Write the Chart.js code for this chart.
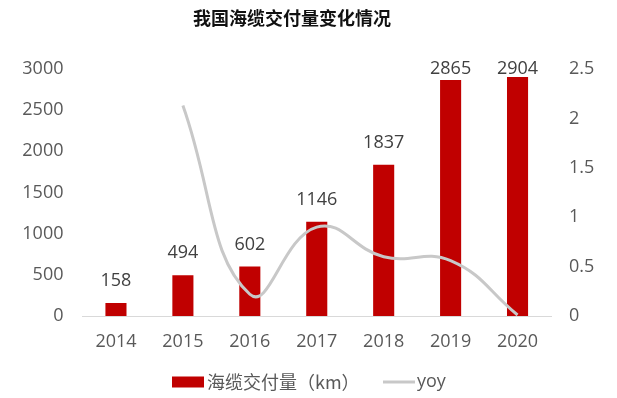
<!DOCTYPE html>
<html>
<head>
<meta charset="utf-8">
<script src="https://cdn.jsdelivr.net/npm/chart.js@4.4.1/dist/chart.umd.min.js"></script>
<style>
  html, body { margin: 0; padding: 0; background: #fff; }
  #wrap { width: 617px; height: 398px; }
</style>
</head>
<body>
<div id="wrap"><canvas id="chart" width="617" height="398"></canvas></div>
<script>
const years = ['2014', '2015', '2016', '2017', '2018', '2019', '2020'];
const delivered = [158, 494, 602, 1146, 1837, 2865, 2904];
const yoy = [null, 2.13, 0.22, 0.90, 0.60, 0.56, 0.01];
const leftTicks = [0, 500, 1000, 1500, 2000, 2500, 3000];
const rightTicks = [0, 0.5, 1, 1.5, 2, 2.5];

const FONT = "'Open Sans', 'Noto Sans CJK SC', sans-serif";
const CJK = "'Noto Sans CJK SC', 'Open Sans', sans-serif";
const TEXT = '#595959';

// title, bar value labels and the legend row
const extras = {
  id: 'extras',
  afterDatasetsDraw(chart) {
    const ctx = chart.ctx;
    const area = chart.chartArea;
    ctx.save();

    ctx.font = 'bold 18px ' + CJK;
    ctx.fillStyle = '#111';
    ctx.textAlign = 'center';
    ctx.textBaseline = 'middle';
    ctx.fillText('我国海缆交付量变化情况', 292, 18);

    // value labels above the bars
    ctx.font = '18px ' + FONT;
    ctx.fillStyle = '#404040';
    chart.getDatasetMeta(0).data.forEach((bar, i) => {
      const y = Math.max(bar.y - 22, area.top);
      ctx.fillText(String(delivered[i]), bar.x, y);
    });

    // legend
    const ds = chart.data.datasets;
    const ly = 382;
    ctx.fillStyle = ds[0].backgroundColor;
    ctx.fillRect(172, ly - 5.5, 32, 11);
    ctx.textAlign = 'left';
    ctx.font = '18px ' + CJK;
    ctx.fillStyle = TEXT;
    ctx.fillText(ds[0].label, 207, ly);

    ctx.strokeStyle = ds[1].borderColor;
    ctx.lineWidth = 3;
    ctx.beginPath();
    ctx.moveTo(383, ly);
    ctx.lineTo(415, ly);
    ctx.stroke();
    ctx.font = '18px ' + FONT;
    ctx.fillText(ds[1].label, 417, ly);
    ctx.restore();
  }
};

new Chart(document.getElementById('chart'), {
  data: {
    labels: years,
    datasets: [
      {
        type: 'bar',
        label: '海缆交付量（km）',
        data: delivered,
        yAxisID: 'y',
        backgroundColor: '#c00000',
        categoryPercentage: 1,
        barPercentage: 0.315,
        order: 1
      },
      {
        type: 'line',
        label: 'yoy',
        data: yoy,
        yAxisID: 'y1',
        borderColor: '#c8c8c8',
        borderWidth: 3,
        pointRadius: 0,
        tension: 0.45,
        order: 0
      }
    ]
  },
  options: {
    responsive: false,
    devicePixelRatio: 1,
    animation: false,
    layout: { padding: { top: 69, bottom: 0, left: 0, right: 0 } },
    plugins: {
      legend: { display: false },
      tooltip: { enabled: false }
    },
    scales: {
      x: {
        grid: { display: false, drawTicks: false },
        border: { color: '#d9d9d9', width: 1 },
        ticks: { color: TEXT, font: { family: FONT, size: 18 }, padding: 15 },
        afterFit(scale) { scale.height = 82; }
      },
      y: {
        position: 'left',
        min: 0,
        max: 3000,
        grid: { display: false, drawTicks: false },
        border: { display: false },
        afterBuildTicks(scale) { scale.ticks = leftTicks.map(v => ({ value: v })); },
        ticks: { color: TEXT, font: { family: FONT, size: 18 }, padding: 19, callback: v => String(v) },
        afterFit(scale) { scale.width = 82.5; }
      },
      y1: {
        position: 'right',
        min: 0,
        max: 2.5,
        grid: { display: false, drawTicks: false },
        border: { display: false },
        afterBuildTicks(scale) { scale.ticks = rightTicks.map(v => ({ value: v })); },
        ticks: { color: TEXT, font: { family: FONT, size: 18 }, padding: 18, callback: v => String(v) },
        afterFit(scale) { scale.width = 66; }
      }
    }
  },
  plugins: [extras]
});
</script>
</body>
</html>
